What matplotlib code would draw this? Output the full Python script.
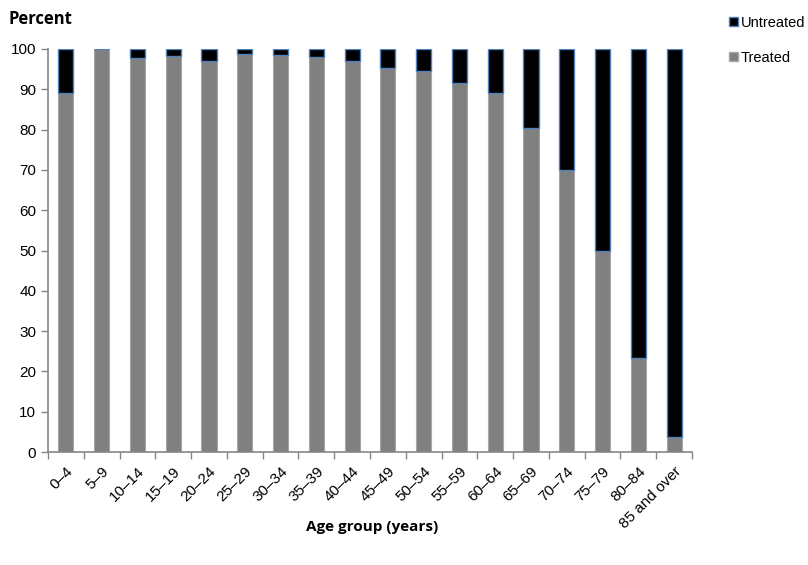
import matplotlib
matplotlib.use("Agg")
import matplotlib.pyplot as plt
import numpy as np
from matplotlib.patches import Patch

categories = ["0\u20134", "5\u20139", "10\u201314", "15\u201319", "20\u201324", "25\u201329",
              "30\u201334", "35\u201339", "40\u201344", "45\u201349", "50\u201354", "55\u201359",
              "60\u201364", "65\u201369", "70\u201374", "75\u201379", "80\u201384", "85 and over"]
treated = [89.1, 100, 97.8, 98.3, 97.0, 98.7, 98.5, 98.1, 97.1, 95.4, 94.5, 91.6,
           89.2, 80.3, 70.0, 49.9, 23.3, 3.8]
untreated = [100 - t for t in treated]

plt.rcParams['font.family'] = ['Liberation Sans', 'DejaVu Sans']

fig = plt.figure(figsize=(8.08, 5.65), dpi=100)
ax = fig.add_axes([48/808, 1 - 452/565, (692 - 48)/808, (452 - 49)/565])

x = np.arange(len(categories))
w = 0.42
ax.bar(x, treated, width=w, color="#808080", edgecolor="#A6A6A6", linewidth=0.8, label="Treated")
ax.bar(x, untreated, width=w, bottom=treated, color="#000000", edgecolor="#4F81BD", linewidth=1.0, label="Untreated")

ax.set_xlim(-0.5, len(categories) - 0.5)
ax.set_ylim(0, 100)
ax.set_yticks(range(0, 101, 10))
ax.tick_params(axis='y', labelsize=11, length=5, color="#868686", width=1)
ax.set_xticks(x)
ax.set_xticklabels(categories, rotation=45, ha='right', rotation_mode='anchor', fontsize=11)
ax.set_xticks(np.arange(-0.5, len(categories) + 0.5, 1), minor=True)
ax.tick_params(axis='x', which='major', length=0, pad=9)
ax.tick_params(axis='x', which='minor', length=5, color="#868686", width=1)

for s in ["top", "right"]:
    ax.spines[s].set_visible(False)
for s in ["left", "bottom"]:
    ax.spines[s].set_color("#868686")
    ax.spines[s].set_linewidth(1.2)

fig.text(8/808, 1 - 19/565, "Percent", fontsize=12, fontweight='bold',
         family=['Open Sans', 'DejaVu Sans'], va='center', ha='left')
fig.text(372/808, 1 - 527/565, "Age group (years)", fontsize=11, fontweight='bold',
         family=['Open Sans', 'DejaVu Sans'], va='center', ha='center')

handles = [Patch(facecolor="#000000", edgecolor="#4F81BD", label="Untreated"),
           Patch(facecolor="#808080", edgecolor="#A6A6A6", label="Treated")]
fig.legend(handles=handles, loc='upper left', bbox_to_anchor=(723/808, 1 - 10/565),
           frameon=False, fontsize=10.5, handlelength=0.6, handleheight=0.6,
           handletextpad=0.2, labelspacing=1.45, borderaxespad=0)

fig.savefig("out.png", dpi=100)
